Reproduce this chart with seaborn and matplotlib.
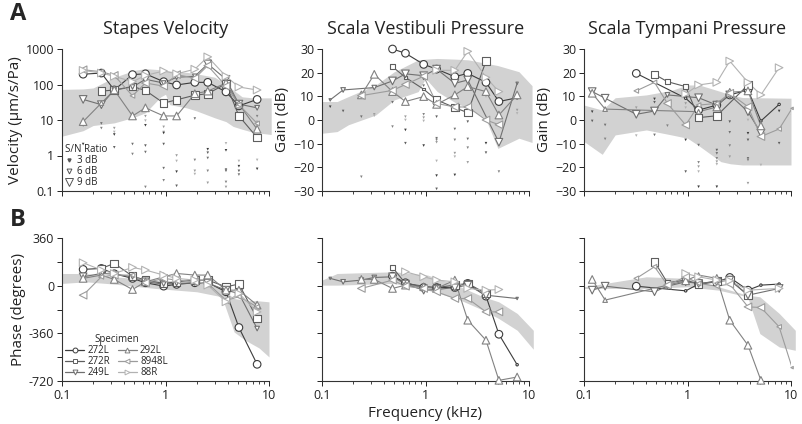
import numpy as np
import pandas as pd
import seaborn as sns
import matplotlib.pyplot as plt
from matplotlib.lines import Line2D
from matplotlib.ticker import FuncFormatter, FixedLocator, NullFormatter, LogLocator

n = np.nan

# measurement frequencies (kHz)
freqs = [0.12, 0.16, 0.24, 0.32, 0.48, 0.64, 0.96, 1.28, 1.92, 2.56, 3.84, 5.12, 7.68, 10.24]

specimens = ['272L', '272R', '249L', '292L', '8948L', '88R']

# stapes velocity (um/s/Pa)
vel = {
    '272L': [n, 195, 210, 70, 190, 200, 120, 97, 115, 115, 62, 25, 38, n],
    '272R': [n, n, 65, 70, 88, 68, 30, 37, 50, 55, 105, 13, 3.2, n],
    '249L': [n, 38, 27, 70, 85, 140, 110, 160, 170, 380, 140, 28, 22, n],
    '292L': [n, 9, 30, 70, 13, 22, 13, 13, 55, 65, 110, 28, 5.5, n],
    '8948L': [n, 260, 230, 180, 48, 110, 90, 190, 150, 340, 90, 27, 8, n],
    '88R': [n, 250, 210, 170, 120, 180, 240, 200, 270, 600, 170, 85, 70, n],
}
vel_snr = {
    '272L': [9, 9, 9, 9, 9, 9, 9, 9, 9, 9, 9, 9, 9, 9],
    '272R': [9, 9, 9, 9, 9, 9, 9, 9, 9, 9, 9, 9, 9, 9],
    '249L': [9, 9, 9, 6, 6, 9, 6, 6, 6, 9, 9, 9, 6, 9],
    '292L': [9, 9, 6, 9, 9, 9, 9, 9, 9, 9, 9, 9, 9, 9],
    '8948L': [9, 9, 6, 9, 6, 9, 9, 9, 9, 9, 9, 6, 6, 9],
    '88R': [9, 9, 9, 9, 9, 9, 9, 9, 9, 9, 9, 9, 9, 9],
}
vel_dot_f = [0.16, 0.16, 0.24, 0.24, 0.32, 0.32, 0.32, 0.32, 0.48, 0.48,
             0.64, 0.64, 0.64, 0.64, 0.64, 0.64, 0.96, 0.96, 0.96, 0.96, 0.96, 0.96,
             1.28, 1.28, 1.28, 1.28, 1.92, 1.92, 1.92, 1.92, 2.56, 2.56, 2.56, 2.56, 2.56,
             3.84, 3.84, 3.84, 3.84, 3.84, 3.84, 5.12, 5.12, 5.12, 5.12, 7.68, 7.68, 7.68, 7.68]
vel_dot_v = [2.1, 7, 8, 5.9, 5.9, 4.6, 3.9, 1.7, 2.1, 1.1,
             12.8, 9.6, 7.1, 1.9, 1.25, 0.13, 6.4, 4.6, 4.3, 2.1, 0.44, 0.2,
             1.0, 0.7, 0.35, 0.14, 11, 0.75, 0.37, 0.3, 1.5, 1.2, 0.85, 0.37, 0.17,
             2.2, 1.4, 0.4, 0.37, 0.18, 0.13, 0.7, 0.5, 0.37, 0.29, 12.8, 8.8, 0.75, 0.42]

# scala vestibuli gain (dB)
sv = {
    '272L': [n, n, n, n, 30, 28.2, 23.5, 21.5, 18.3, 19.7, 15.9, 7.8, 9.4, n],
    '272R': [n, n, n, n, 22.5, 18, 13, 8.5, 5.2, 3.1, 24.9, n, n, n],
    '249L': [8.5, 12.7, n, 13.7, 16.5, 19.5, 18.7, 21.5, 15.5, 16.9, n, -9.4, 15.5, n],
    '292L': [n, n, 10.6, 19.3, 12, 7.8, 9.9, 6.6, 10.6, 14.1, 12, 2.1, 10.6, n],
    '8948L': [n, n, 10.3, n, 12.5, 15, 18.5, 7, 5.5, 5.5, 0, -2, n, n],
    '88R': [n, n, n, n, n, n, n, 21, 21, 29, 18, 12, n, n],
}
sv_snr = {
    '272L': [9, 9, 9, 9, 9, 9, 9, 9, 9, 9, 9, 9, 3, 9],
    '272R': [6, 6, 6, 6, 6, 3, 3, 9, 9, 9, 9, 9, 9, 9],
    '249L': [3, 6, 6, 6, 9, 9, 9, 9, 9, 9, 9, 9, 3, 9],
    '292L': [9, 9, 9, 9, 9, 9, 9, 9, 9, 9, 9, 9, 9, 9],
    '8948L': [9, 9, 9, 9, 9, 9, 9, 9, 9, 9, 9, 9, 9, 9],
    '88R': [9, 9, 9, 9, 9, 9, 9, 9, 9, 9, 9, 9, 9, 9],
}
sv_dot_f = [0.12, 0.16, 0.24, 0.24, 0.32, 0.32, 0.48, 0.48, 0.48, 0.48,
            0.64, 0.64, 0.64, 0.64, 0.96, 0.96, 0.96, 0.96, 0.96,
            1.28, 1.28, 1.28, 1.28, 1.28, 1.28, 1.28, 1.92, 1.92, 1.92, 1.92, 1.92,
            2.56, 2.56, 2.56, 2.56, 3.84, 3.84, 3.84, 5.12, 5.12, 7.68, 7.68]
sv_dot_v = [5.6, 3.8, 1.4, -24, 2.4, 1.8, 16.9, 15.9, 7.5, -2.8,
            1.4, 0, -4.2, -9.8, 14.5, 2.4, 1, -0.4, -10.8,
            1.4, -7.7, -8.4, -9.4, -17.3, -23.5, -29.1, -3.8, -8.4, -14, -15.5, -23.2,
            -0.7, -8, -11.7, -17.9, 9.9, -9.8, -13.8, -1.8, -21.8, 4.2, 2.8]

# scala tympani gain (dB)
st = {
    '272L': [n, n, n, 19.7, n, n, 9.2, 4.2, 6.3, 10.6, 12.7, -0.4, 6.6, n],
    '272R': [n, n, n, n, 19.3, 16.2, 14.1, 1, 1.8, n, 14.8, n, n, n],
    '249L': [12, 9.2, n, 2.4, 3.8, 10.6, n, 9.4, 6.3, 10.6, 3.5, -5.5, n, n],
    '292L': [11.3, 4.6, n, n, n, n, n, 3.5, 5.5, 11.7, 12.3, -2.5, n, n],
    '8948L': [n, n, n, 12.3, 15.9, 7, -2.1, 6.3, 7, 11.3, 5.6, -7, -3.8, 4.9],
    '88R': [n, n, n, n, n, n, 11, 14.8, 15.9, 24.9, 15.9, 10.6, 22.1, n],
}
st_snr = {
    '272L': [9, 9, 9, 9, 9, 9, 3, 9, 9, 9, 9, 3, 3, 9],
    '272R': [9, 9, 9, 9, 9, 6, 6, 9, 9, 9, 9, 9, 9, 9],
    '249L': [9, 9, 9, 9, 9, 6, 9, 9, 9, 9, 9, 9, 9, 9],
    '292L': [9, 6, 9, 9, 9, 9, 9, 6, 9, 9, 9, 9, 9, 9],
    '8948L': [9, 9, 9, 6, 6, 9, 9, 6, 6, 9, 9, 9, 6, 3],
    '88R': [9, 9, 9, 9, 9, 9, 9, 9, 9, 9, 9, 9, 9, 9],
}
st_dot_f = [0.12, 0.12, 0.16, 0.16, 0.32, 0.32, 0.48, 0.48, 0.48, 0.64,
            0.96, 0.96, 0.96, 0.96, 1.28, 1.28, 1.28, 1.28, 1.28,
            1.92, 1.92, 1.92, 1.92, 1.92, 1.92, 2.56, 2.56, 2.56, 2.56,
            3.84, 3.84, 3.84, 3.84, 3.84, 3.84, 5.12, 7.68, 7.68, 10.24]
st_dot_v = [3.5, -0.4, -2.1, -8, 5.2, -6.6, 8.9, 7.5, -6.3, -2.4,
            7, 5.2, -8.4, -21.8, -10.6, -17.9, -19.7, -21.8, -28.2,
            -12.7, -14.1, -16.2, -17.6, -18.7, -28.2, -0.7, -5.2, -10.8, -15.5,
            0, -5.6, -8.4, -16.2, -16.9, -26.7, -19, 3.8, -9.8, 1.8]

# phases (degrees)
vel_ph = {
    '272L': [n, 123, 130, 90, 55, 22, -3.5, 10, 22, 22, -46, -316, -594, n],
    '272R': [n, n, 130, 168, 72, 42, 17, 29, 42, 42, -8.5, 12, -248, n],
    '249L': [n, 67, 92, 87, 67, 29, 12, 17, 20, 20, -34, -59, -324, n],
    '292L': [n, 55, 80, 47, -29, 29, 67, 92, 80, 80, -34, -34, -147, n],
    '8948L': [n, -72, 67, 80, 80, 22, 55, 42, 29, 17, -110, -84, -160, n],
    '88R': [n, 173, 118, 92, 138, 118, 80, 55, 42, 4, -122, -59, -198, n],
}
sv_ph = {
    '272L': [n, n, n, n, 72, 22, -14, -14, -14, 17, -79, -367, -597, n],
    '272R': [n, n, n, n, 138, 17, -4, -14, 4, 17, -59, n, n, n],
    '249L': [55, 29, 42, 62, 67, 12, -34, -29, -14, 4, -72, n, -97, n],
    '292L': [n, n, 47, 47, -21, 4, -8.5, -21, 42, -261, -412, -715, -690, n],
    '8948L': [n, n, -21, n, 42, -4, -21, -46, -97, -97, -198, -198, n, n],
    '88R': [n, n, n, n, n, 105, 67, 42, 29, -21, -34, -29, n, n],
}
st_ph = {
    '272L': [n, n, n, -4, n, n, -39, 12, 29, 62, -34, 4, 12, n],
    '272R': [n, n, n, n, 181, 22, 42, 12, 37, 47, -72, n, n, n],
    '249L': [-34, -4, n, n, -46, -4, 29, 17, 29, 42, -72, n, -21, n],
    '292L': [47, -109, n, n, n, n, 37, 80, 55, -261, -450, -715, n, n],
    '8948L': [n, n, n, 55, 143, 4, 67, 17, -4, 12, -160, -165, -311, -619],
    '88R': [n, n, n, n, n, n, 92, 67, 42, 37, -34, n, -21, n],
}

# normal ranges (shaded)
vel_band_f = [0.1, 0.16, 0.2, 0.32, 0.5, 0.64, 0.9, 1.0, 1.1, 1.6, 2.0, 3.0, 3.84, 4.5, 5.5, 7, 10.5]
vel_band_hi = [73, 75, 80, 160, 250, 280, 260, 250, 240, 220, 200, 160, 100, 70, 45, 42, 42]
vel_band_lo = [3.5, 5, 7, 8.3, 12, 16, 45, 53, 27, 22, 18, 11.5, 9, 6.6, 5.5, 4.5, 3.9]

sv_band_f = [0.1, 0.14, 0.18, 0.33, 0.5, 0.85, 1.0, 1.3, 2.0, 2.6, 3.8, 5.0, 8.0, 10.7]
sv_band_hi = [7.8, 7.8, 9.9, 14.8, 20.4, 25.4, 25.7, 26, 25.7, 25.4, 24, 23, 20.4, 14.5]
sv_band_lo = [-5.6, -4.9, -2, 2.1, 8.5, 12, 17.6, 12, 7, 5, 0.7, -12, -7.7, -9.5]

st_band_f = [0.1, 0.15, 0.2, 0.4, 0.7, 1.0, 1.3, 2.1, 2.6, 3.4, 10]
st_band_hi = [6.3, 4.2, 9.4, 10.6, 12.5, 14.8, 14.8, 12, 10.6, 9.5, 9.2]
st_band_lo = [-9.1, -14.5, -6.3, -4.2, -6.3, -7.7, -11, -17.6, -18.5, -19, -19]

vel_ph_band_f = [0.1, 0.17, 0.32, 0.8, 2.0, 3.5, 4.6, 5.9, 8, 10]
vel_ph_band_hi = [92, 92, 67, 42, 29, -21, -97, -110, -115, -122]
vel_ph_band_lo = [17, 29, 12, -21, -46, -84, -350, -412, -470, -538]

sv_ph_band_f = [0.1, 0.14, 0.5, 1.05, 2.0, 3.6, 5.1, 7.7, 11]
sv_ph_band_hi = [42, 92, 105, 80, 4, -84, -122, -210, -337]
sv_ph_band_lo = [4, 4, 17, -34, -97, -185, -248, -337, -480]

st_ph_band_f = [0.1, 0.4, 1.0, 2.0, 3.8, 5.0, 7.7, 11]
st_ph_band_hi = [-8.5, 67, 55, -8.5, -72, -84, -210, -337]
st_ph_band_lo = [-21, -21, -8.5, -34, -84, -362, -463, -488]

colors = {'272L': '#3c3c3c', '272R': '#5e5e5e', '249L': '#707070',
          '292L': '#828282', '8948L': '#9c9c9c', '88R': '#b2b2b2'}
markers = {'272L': 'o', '272R': 's', '249L': 'v', '292L': '^', '8948L': '<', '88R': '>'}
snr_size = {3: 3, 6: 11, 9: 30}
band_color = '#d2d2d2'

sns.set_style('ticks')
plt.rcParams['font.family'] = ['Open Sans', 'DejaVu Sans']

fig = plt.figure(figsize=(8.02, 4.24), dpi=100)
lefts = [62 / 802, 322 / 802, 584 / 802]
w = 207 / 802
top_ax = [fig.add_axes([l, 1 - 191 / 424, w, 142 / 424]) for l in lefts]
bot_ax = [fig.add_axes([l, 1 - 381 / 424, w, 143 / 424]) for l in lefts]


def draw_series(ax, data, snr):
    for sp in specimens:
        df = pd.DataFrame({'f': freqs, 'v': data[sp], 's': snr[sp]}).dropna()
        sns.lineplot(data=df, x='f', y='v', ax=ax, color=colors[sp], lw=0.8,
                     zorder=2, legend=False)
        ax.scatter(df['f'], df['v'], s=[snr_size[int(s)] for s in df['s']],
                   marker=markers[sp], facecolors='white', edgecolors=colors[sp],
                   linewidths=0.8, zorder=3, clip_on=False)


def draw_band(ax, f, lo, hi):
    ax.fill_between(f, lo, hi, color=band_color, lw=0, zorder=0, clip_on=False)


def draw_dots(ax, f, v):
    cols = [list(colors.values())[i % 6] for i in range(len(f))]
    ax.scatter(f, v, s=3.5, c=cols, marker='v', lw=0, zorder=1)


draw_band(top_ax[0], vel_band_f, vel_band_lo, vel_band_hi)
draw_band(top_ax[1], sv_band_f, sv_band_lo, sv_band_hi)
draw_band(top_ax[2], st_band_f, st_band_lo, st_band_hi)
draw_dots(top_ax[0], vel_dot_f, vel_dot_v)
draw_dots(top_ax[1], sv_dot_f, sv_dot_v)
draw_dots(top_ax[2], st_dot_f, st_dot_v)
draw_series(top_ax[0], vel, vel_snr)
draw_series(top_ax[1], sv, sv_snr)
draw_series(top_ax[2], st, st_snr)

draw_band(bot_ax[0], vel_ph_band_f, vel_ph_band_lo, vel_ph_band_hi)
draw_band(bot_ax[1], sv_ph_band_f, sv_ph_band_lo, sv_ph_band_hi)
draw_band(bot_ax[2], st_ph_band_f, st_ph_band_lo, st_ph_band_hi)
draw_series(bot_ax[0], vel_ph, vel_snr)
draw_series(bot_ax[1], sv_ph, sv_snr)
draw_series(bot_ax[2], st_ph, st_snr)

# axes styling
for ax in top_ax + bot_ax:
    ax.set_xscale('log')
    ax.set_xlim(0.1, 10)
    ax.xaxis.set_major_locator(FixedLocator([0.1, 1, 10]))
    ax.xaxis.set_minor_locator(LogLocator(base=10, subs=np.arange(2, 10)))
    ax.xaxis.set_minor_formatter(NullFormatter())
    ax.set_xlabel('')
    ax.set_ylabel('')
    ax.tick_params(which='major', length=3.5, width=0.7, labelsize=9, colors='#222', pad=2)
    ax.tick_params(which='minor', length=2, width=0.6, colors='#222')
    for s in ['left', 'bottom']:
        ax.spines[s].set_linewidth(0.8)
        ax.spines[s].set_color('#333')
    sns.despine(ax=ax)

for ax in top_ax:
    ax.xaxis.set_major_formatter(NullFormatter())

top_ax[0].set_yscale('log')
top_ax[0].set_ylim(0.1, 1000)
top_ax[0].yaxis.set_major_locator(FixedLocator([0.1, 1, 10, 100, 1000]))
top_ax[0].yaxis.set_minor_locator(FixedLocator([]))
top_ax[0].yaxis.set_major_formatter(FuncFormatter(lambda v, p: f'{v:g}'))
for ax in top_ax[1:]:
    ax.set_ylim(-30, 30)
    ax.set_yticks([-30, -20, -10, 0, 10, 20, 30])

for ax in bot_ax:
    ax.set_ylim(-720, 360)
    ax.set_yticks([-720, -540, -360, -180, 0, 180, 360])
    ax.xaxis.set_major_formatter(FuncFormatter(lambda v, p: f'{v:g}'))
bot_ax[0].set_yticklabels(['-720', '', '-360', '', '0', '', '360'])
for ax in bot_ax[1:]:
    ax.set_yticklabels([])

lab = dict(fontsize=11, color='#222')
top_ax[0].set_ylabel('Velocity (µm/s/Pa)', labelpad=2, **lab)
top_ax[1].set_ylabel('Gain (dB)', labelpad=2, **lab)
top_ax[2].set_ylabel('Gain (dB)', labelpad=2, **lab)
bot_ax[0].set_ylabel('Phase (degrees)', labelpad=2, **lab)
bot_ax[1].set_xlabel('Frequency (kHz)', labelpad=3, **lab)

for ax, t in zip(top_ax, ['Stapes Velocity', 'Scala Vestibuli Pressure', 'Scala Tympani Pressure']):
    ax.set_title(t, fontsize=13, pad=11, color='#222')

fig.text(0.012, 0.995, 'A', fontsize=17, fontweight='bold', va='top', ha='left')
fig.text(0.012, 0.51, 'B', fontsize=17, fontweight='bold', va='top', ha='left')

# S/N legend
snr_handles = [Line2D([], [], ls='', marker='v', color='#555', mfc='#555', ms=2.2),
               Line2D([], [], ls='', marker='v', mfc='white', mec='#555', ms=3.5, mew=0.7),
               Line2D([], [], ls='', marker='v', mfc='white', mec='#555', ms=5.5, mew=0.7)]
leg1 = top_ax[0].legend(snr_handles, ['3 dB', '6 dB', '9 dB'], title='S/N Ratio', loc='lower left',
                        frameon=False, fontsize=7, title_fontsize=7, handlelength=0.8,
                        handletextpad=0.4, labelspacing=0.0, borderpad=0.1,
                        borderaxespad=0.2, bbox_to_anchor=(0.0, 0.0))
leg1._legend_box.align = 'left'

# specimen legend
sp_handles = [Line2D([], [], color=colors[sp], marker=markers[sp], mfc='white',
                     mec=colors[sp], ms=3.5, lw=0.9, mew=0.7) for sp in specimens]
leg2 = bot_ax[0].legend(sp_handles, specimens, title='Specimen', loc='lower left', ncol=2,
                        frameon=False, fontsize=7, title_fontsize=7, handlelength=2.0,
                        handletextpad=0.3, labelspacing=0.0, columnspacing=0.8,
                        borderpad=0.1, borderaxespad=0.2)

fig.savefig('out.png', dpi=100)
